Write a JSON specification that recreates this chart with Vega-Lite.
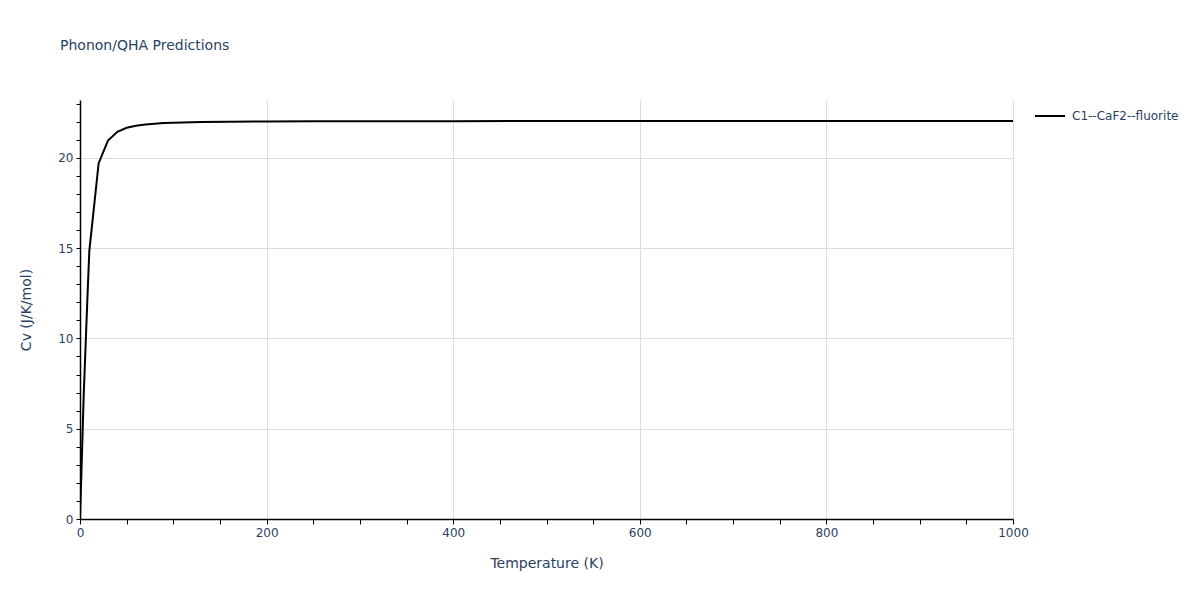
{
  "$schema": "https://vega.github.io/schema/vega-lite/v6.json",
  "width": 933,
  "height": 419,
  "autosize": {"type": "none"},
  "padding": {"left": 80, "top": 100, "right": 187, "bottom": 81},
  "background": "white",
  "config": {
    "view": {"stroke": null},
    "font": "DejaVu Sans"
  },
  "title": {
    "text": "Phonon/QHA Predictions",
    "anchor": "start",
    "frame": "group",
    "dx": -20,
    "offset": 45,
    "fontSize": 14,
    "fontWeight": "normal",
    "color": "#2a3f5f",
    "font": "DejaVu Sans"
  },
  "data": {
    "values": [
      {"T": 0, "Cv": 0, "name": "C1--CaF2--fluorite"},
      {"T": 2, "Cv": 3.4, "name": "C1--CaF2--fluorite"},
      {"T": 4, "Cv": 6.9, "name": "C1--CaF2--fluorite"},
      {"T": 6, "Cv": 9.6, "name": "C1--CaF2--fluorite"},
      {"T": 8, "Cv": 12.3, "name": "C1--CaF2--fluorite"},
      {"T": 10, "Cv": 14.85, "name": "C1--CaF2--fluorite"},
      {"T": 20, "Cv": 19.7, "name": "C1--CaF2--fluorite"},
      {"T": 30, "Cv": 20.95, "name": "C1--CaF2--fluorite"},
      {"T": 40, "Cv": 21.44, "name": "C1--CaF2--fluorite"},
      {"T": 50, "Cv": 21.66, "name": "C1--CaF2--fluorite"},
      {"T": 60, "Cv": 21.77, "name": "C1--CaF2--fluorite"},
      {"T": 70, "Cv": 21.84, "name": "C1--CaF2--fluorite"},
      {"T": 80, "Cv": 21.89, "name": "C1--CaF2--fluorite"},
      {"T": 90, "Cv": 21.92, "name": "C1--CaF2--fluorite"},
      {"T": 100, "Cv": 21.94, "name": "C1--CaF2--fluorite"},
      {"T": 130, "Cv": 21.98, "name": "C1--CaF2--fluorite"},
      {"T": 200, "Cv": 22.01, "name": "C1--CaF2--fluorite"},
      {"T": 250, "Cv": 22.03, "name": "C1--CaF2--fluorite"},
      {"T": 400, "Cv": 22.03, "name": "C1--CaF2--fluorite"},
      {"T": 600, "Cv": 22.04, "name": "C1--CaF2--fluorite"},
      {"T": 800, "Cv": 22.04, "name": "C1--CaF2--fluorite"},
      {"T": 1000, "Cv": 22.04, "name": "C1--CaF2--fluorite"}
    ]
  },
  "mark": {"type": "line", "strokeWidth": 2, "clip": true},
  "encoding": {
    "x": {
      "field": "T",
      "type": "quantitative",
      "scale": {"domain": [0, 1000], "nice": false, "zero": false},
      "axis": {
        "title": "Temperature (K)",
        "values": [0,50,100,150,200,250,300,350,400,450,500,550,600,650,700,750,800,850,900,950,1000],
        "labelExpr": "datum.value % 200 === 0 ? datum.label : ''",
        "format": "d",
        "grid": true,
        "gridColor": {"condition": {"test": "datum.value % 200 === 0 && datum.value > 0", "value": "#dcdcdc"}, "value": "transparent"},
        "gridWidth": 1,
        "domainColor": "black",
        "domainWidth": 1.5,
        "tickColor": "black",
        "tickSize": 5,
        "labelColor": "#2a3f5f",
        "labelFontSize": 12,
        "labelFont": "DejaVu Sans",
        "labelPadding": 3,
        "labelFlush": false,
        "labelOverlap": false,
        "titleColor": "#2a3f5f",
        "titleFontSize": 14,
        "titleFont": "DejaVu Sans",
        "titleFontWeight": "normal",
        "titlePadding": 18
      }
    },
    "y": {
      "field": "Cv",
      "type": "quantitative",
      "scale": {"domain": [0, 23.2], "nice": false, "zero": false},
      "axis": {
        "title": "Cv (J/K/mol)",
        "values": [0,1,2,3,4,5,6,7,8,9,10,11,12,13,14,15,16,17,18,19,20,21,22,23],
        "labelExpr": "datum.value % 5 === 0 ? datum.label : ''",
        "grid": true,
        "gridColor": {"condition": {"test": "datum.value % 5 === 0 && datum.value > 0", "value": "#dcdcdc"}, "value": "transparent"},
        "gridWidth": 1,
        "domainColor": "black",
        "domainWidth": 1.5,
        "tickColor": "black",
        "tickSize": 4,
        "labelColor": "#2a3f5f",
        "labelFontSize": 12,
        "labelFont": "DejaVu Sans",
        "labelPadding": 3,
        "labelOverlap": false,
        "titleColor": "#2a3f5f",
        "titleFontSize": 14,
        "titleFont": "DejaVu Sans",
        "titleFontWeight": "normal",
        "titlePadding": 24
      }
    },
    "color": {
      "field": "name",
      "type": "nominal",
      "scale": {"range": ["black"]},
      "legend": {
        "title": null,
        "orient": "none",
        "legendX": 954,
        "legendY": 0,
        "symbolType": "stroke",
        "symbolSize": 900,
        "symbolStrokeWidth": 2,
        "labelColor": "#2a3f5f",
        "labelFontSize": 12,
        "labelFont": "DejaVu Sans",
        "labelOffset": 6
      }
    }
  }
}
